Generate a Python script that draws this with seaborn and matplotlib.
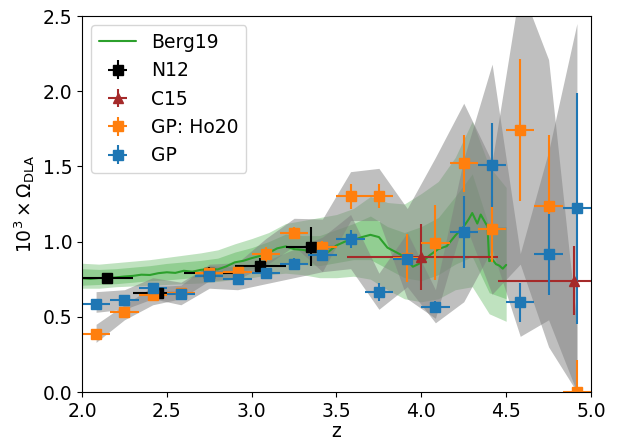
import matplotlib
matplotlib.use("Agg")
import matplotlib.pyplot as plt
import pandas as pd
import seaborn as sns

# ---------------- data ----------------
# Berg19 central curve
berg_z = [2.00, 2.05, 2.10, 2.15, 2.20, 2.25, 2.30, 2.35, 2.40, 2.45,
          2.50, 2.55, 2.60, 2.65, 2.70, 2.75, 2.80, 2.85, 2.90, 2.95,
          3.00, 3.05, 3.10, 3.15, 3.20, 3.25, 3.30, 3.35, 3.40, 3.45,
          3.50, 3.55, 3.60, 3.65, 3.70, 3.75, 3.80, 3.85, 3.90, 3.95,
          4.00, 4.05, 4.10, 4.15, 4.20, 4.25, 4.28, 4.30, 4.33, 4.35,
          4.37, 4.39, 4.40, 4.42, 4.44, 4.46, 4.48, 4.50]
berg_omega = [0.756, 0.752, 0.758, 0.756, 0.762, 0.768, 0.772, 0.780, 0.778, 0.790,
              0.796, 0.792, 0.806, 0.800, 0.812, 0.818, 0.815, 0.835, 0.862, 0.872,
              0.890, 0.905, 0.925, 0.955, 0.968, 0.950, 0.945, 0.935, 0.940, 0.930,
              0.975, 1.000, 1.010, 1.030, 1.045, 1.030, 0.960, 0.930, 0.900, 0.833,
              0.860, 0.910, 0.950, 0.970, 1.040, 1.100, 1.150, 1.190, 1.120, 1.180,
              1.140, 1.100, 0.870, 0.880, 0.850, 0.840, 0.820, 0.845]
# Berg19 confidence bands
band_z = [2.0, 2.1, 2.2, 2.3, 2.4, 2.5, 2.6, 2.7, 2.8, 2.9, 3.0, 3.1, 3.2,
          3.3, 3.4, 3.5, 3.6, 3.7, 3.8, 3.9, 4.0, 4.1, 4.2, 4.3, 4.4, 4.5]
berg_lo95 = [0.69, 0.69, 0.70, 0.705, 0.71, 0.715, 0.72, 0.725, 0.735, 0.75, 0.76, 0.78, 0.79,
             0.78, 0.76, 0.76, 0.77, 0.75, 0.68, 0.62, 0.60, 0.62, 0.68, 0.70, 0.52, 0.47]
berg_lo68 = [0.71, 0.715, 0.72, 0.73, 0.74, 0.745, 0.755, 0.765, 0.775, 0.795, 0.82, 0.84, 0.86,
             0.85, 0.84, 0.86, 0.88, 0.88, 0.82, 0.76, 0.74, 0.78, 0.85, 0.90, 0.66, 0.62]
berg_hi68 = [0.82, 0.815, 0.82, 0.83, 0.84, 0.855, 0.865, 0.875, 0.89, 0.93, 0.96, 1.00, 1.05,
             1.04, 1.04, 1.08, 1.12, 1.17, 1.10, 1.06, 1.10, 1.16, 1.30, 1.45, 1.10, 1.10]
berg_hi95 = [0.856, 0.85, 0.86, 0.87, 0.88, 0.895, 0.91, 0.925, 0.945, 0.985, 1.02, 1.06, 1.12,
             1.14, 1.16, 1.18, 1.22, 1.30, 1.26, 1.25, 1.32, 1.40, 1.56, 1.80, 1.50, 1.36]

# GP bins
gp_z = [2.083, 2.250, 2.417, 2.583, 2.750, 2.917, 3.083, 3.250, 3.417,
        3.583, 3.750, 3.917, 4.083, 4.250, 4.417, 4.583, 4.750, 4.917]
gp_zerr = 0.0833
gp_omega = [0.585, 0.610, 0.690, 0.650, 0.770, 0.750, 0.790, 0.850, 0.910,
            1.020, 0.667, 0.886, 0.563, 1.064, 1.509, 0.596, 0.915, 1.221]
gp_err = [0.03, 0.03, 0.03, 0.03, 0.03, 0.03, 0.03, 0.04, 0.04,
          0.06, 0.06, 0.04, 0.04, 0.24, 0.28, 0.13, 0.27, 0.77]
gp_lo = [0.53, 0.55, 0.62, 0.58, 0.69, 0.68, 0.72, 0.76, 0.80,
         0.82, 0.55, 0.70, 0.46, 0.60, 0.95, 0.37, 0.48, 0.00]
gp_hi = [0.667, 0.68, 0.76, 0.73, 0.84, 0.83, 0.87, 0.95, 1.03,
         1.18, 0.79, 1.06, 0.68, 1.55, 2.18, 0.92, 1.60, 2.45]

# GP: Ho20
ho20_omega = [0.388, 0.532, 0.643, 0.660, 0.793, 0.800, 0.915, 1.055, 0.966,
              1.300, 1.303, 0.890, 0.993, 1.520, 1.086, 1.742, 1.237, 0.000]
ho20_err = [0.02, 0.03, 0.03, 0.03, 0.03, 0.03, 0.05, 0.04, 0.04,
            0.08, 0.08, 0.16, 0.25, 0.19, 0.22, 0.47, 0.47, 0.21]
ho20_lo = [0.33, 0.48, 0.58, 0.62, 0.74, 0.75, 0.84, 0.97, 0.80,
           1.14, 1.14, 0.62, 0.49, 1.14, 0.65, 0.85, 0.30, 0.00]
ho20_hi = [0.45, 0.58, 0.70, 0.71, 0.85, 0.86, 1.02, 1.155, 1.15,
           1.465, 1.487, 1.22, 1.56, 1.92, 1.53, 2.70, 2.21, 0.45]

# N12
n12_z = [2.15, 2.45, 2.75, 3.05, 3.35]
n12_zerr = 0.15
n12_omega = [0.756, 0.660, 0.793, 0.840, 0.966]
n12_err = [0.03, 0.04, 0.04, 0.05, 0.13]

# C15
c15_z = [4.00, 4.90]
c15_zerr_lo = [0.44, 0.45]
c15_zerr_hi = [0.45, 0.41]
c15_omega = [0.896, 0.740]
c15_err = [0.22, 0.23]

# ---------------- plot ----------------
sns.set_style("ticks", rc={"axes.edgecolor": "black", "text.color": "black",
                           "xtick.color": "black", "ytick.color": "black",
                           "axes.labelcolor": "black"})
plt.rcParams["font.family"] = ["DejaVu Sans"]
plt.rcParams["font.size"] = 13.5

fig = plt.figure(figsize=(6.19, 4.43), dpi=100)
ax = fig.add_axes([82 / 619, 51 / 443, 509 / 619, 376 / 443])

ax.fill_between(band_z, berg_lo95, berg_hi95, color="C2", alpha=0.3, lw=0)
ax.fill_between(band_z, berg_lo68, berg_hi68, color="C2", alpha=0.3, lw=0)
berg_df = pd.DataFrame({"z": berg_z, "omega": berg_omega})
sns.lineplot(data=berg_df, x="z", y="omega", color="C2", lw=1.5,
             estimator=None, label="Berg19", ax=ax)

ax.fill_between(gp_z, ho20_lo, ho20_hi, color="gray", alpha=0.5, lw=0)
ax.fill_between(gp_z, gp_lo, gp_hi, color="gray", alpha=0.5, lw=0)

ax.errorbar(n12_z, n12_omega, xerr=n12_zerr, yerr=n12_err, fmt="s",
            color="k", ms=6.5, lw=1.5, label="N12")
ax.errorbar(c15_z, c15_omega, xerr=[c15_zerr_lo, c15_zerr_hi], yerr=c15_err,
            fmt="^", color="brown", ms=6.5, lw=1.5, label="C15")
ax.errorbar(gp_z, ho20_omega, xerr=gp_zerr, yerr=ho20_err, fmt="s",
            color="C1", ms=6.5, lw=1.5, label="GP: Ho20")
ax.errorbar(gp_z, gp_omega, xerr=gp_zerr, yerr=gp_err, fmt="s",
            color="C0", ms=6.5, lw=1.5, label="GP")

ax.set_xlim(2.0, 5.0)
ax.set_ylim(0.0, 2.5)
ax.set_xticks([2.0, 2.5, 3.0, 3.5, 4.0, 4.5, 5.0])
ax.set_yticks([0.0, 0.5, 1.0, 1.5, 2.0, 2.5])
ax.set_xlabel("z", labelpad=1)
ax.set_ylabel(r"$10^3 \times \Omega_{\rm DLA}$")
for s in ax.spines.values():
    s.set_visible(True)
    s.set_color("black")
ax.legend(loc="upper left")

fig.savefig("out.png", dpi=100)
